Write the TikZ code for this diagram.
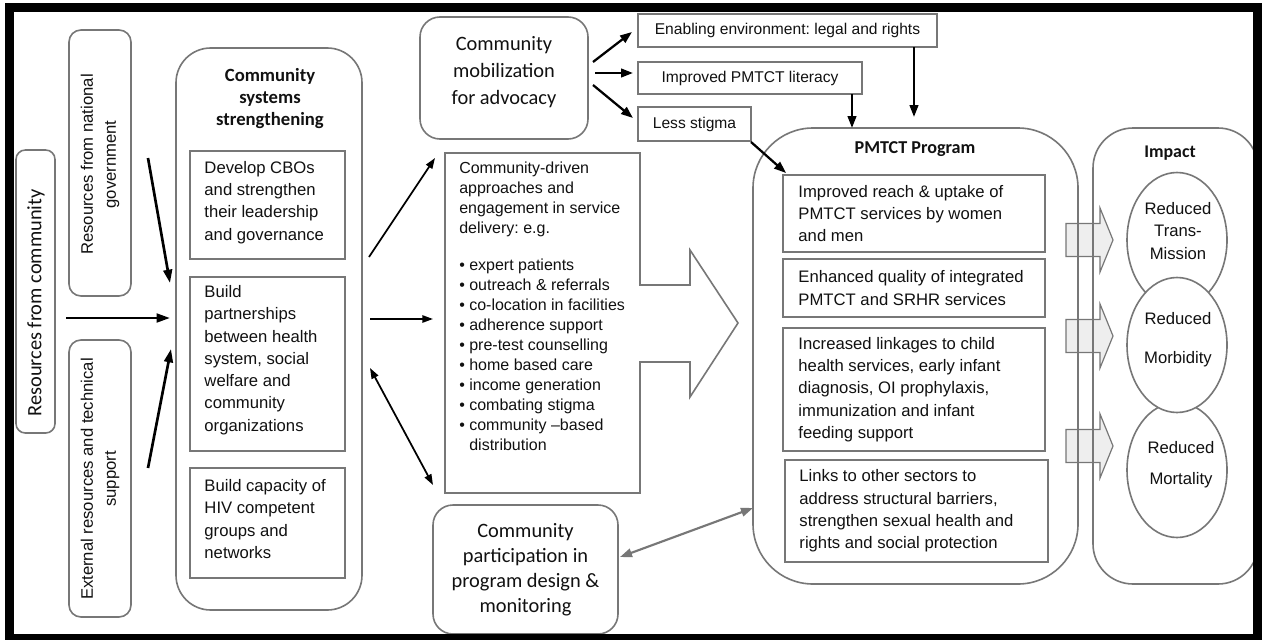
\documentclass[tikz,border=0pt]{standalone}
\usepackage{fontspec}
\setmainfont{Liberation Sans}
\newfontfamily\calfont{Carlito}
\usetikzlibrary{arrows.meta,shapes.geometric}
\definecolor{boxgray}{HTML}{777777}
\definecolor{arrfill}{HTML}{EEEEEE}
\definecolor{txtcol}{HTML}{111111}
\frenchspacing
\tikzset{
  box/.style={draw=boxgray, line width=1.2pt, inner sep=0pt},
  txt/.style={align=left, inner sep=0pt, text=txtcol, font=\fontsize{12.5}{16.7}\selectfont},
  ctxt/.style={align=center, inner sep=0pt, text=txtcol, font=\calfont\fontsize{15.3}{20.25}\selectfont},
  ttl/.style={align=center, inner sep=0pt, text=txtcol, font=\calfont\bfseries\fontsize{14}{16.5}\selectfont},
  arrbig/.style={line width=2pt, -{Triangle[length=10pt,width=6.5pt]}},
  arr/.style={line width=1.7pt, -{Triangle[length=9pt,width=6.5pt]}},
  arrthin/.style={line width=1.3pt, -{Triangle[length=8pt,width=5.5pt]}},
  ell/.style={ellipse, draw=boxgray, line width=1.2pt, fill=white, inner sep=0pt, minimum width=75pt, minimum height=101.25pt},
  blockarr/.style={fill=arrfill, draw=boxgray, line width=0.9pt}
}
\begin{document}
\begin{tikzpicture}[x=0.75pt,y=-0.75pt]
\useasboundingbox (0,0) rectangle (1267,639);
\fill[white] (0,0) rectangle (1267,639);

% grey block arrows (behind the boxes)
\foreach \c in {240,336,446}{
  \filldraw[blockarr] (1066,\c-16.5) -- (1100,\c-16.5) -- (1100,\c-32) -- (1113,\c)
     -- (1100,\c+32) -- (1100,\c+16.5) -- (1066,\c+16.5) -- cycle;
}

% ---------- left column ----------
\node[box, rounded corners=7pt, minimum width=29.25pt, minimum height=212.25pt] (rcomm) at (35.5,291.5) {};
\node[ctxt, rotate=90] (rcommt) at (36,303) {Resources from community};

\node[box, rounded corners=9pt, minimum width=46.5pt, minimum height=199.5pt] (rnat) at (100,163) {};
\node[txt, align=center, rotate=90, font=\fontsize{12.5}{17.3}\selectfont] (rnatt) at (100,164.5) {Resources from national\\government};

\node[box, rounded corners=9pt, minimum width=46.5pt, minimum height=207.75pt] (rext) at (100,478.5) {};
\node[txt, align=center, rotate=90, font=\fontsize{12.5}{17.3}\selectfont] (rextt) at (100,479) {External resources and technical\\support};

% ---------- community systems strengthening ----------
\node[box, rounded corners=26pt, minimum width=139.5pt, minimum height=421.5pt] (css) at (269,329) {};
\node[ttl] (csst) at (270,99) {Community\\systems\\strengthening};

\node[box, minimum width=116.25pt, minimum height=81pt] (b1) at (267.5,205) {};
\node[txt, anchor=west] (b1t) at ([xshift=11.25pt,yshift=2pt]b1.west) {Develop CBOs\\and strengthen\\their leadership\\and governance};

\node[box, minimum width=116.25pt, minimum height=130.5pt] (b2) at (267.5,364) {};
\node[txt, anchor=west] (b2t) at ([xshift=11.25pt,yshift=3pt]b2.west) {Build\\partnerships\\between health\\system, social\\welfare and\\community\\organizations};

\node[box, minimum width=116.25pt, minimum height=82.5pt] (b3) at (267.5,523) {};
\node[txt, anchor=west] (b3t) at ([xshift=11.25pt,yshift=3pt]b3.west) {Build capacity of\\HIV competent\\groups and\\networks};

% ---------- middle column ----------
\node[box, rounded corners=15pt, minimum width=126pt, minimum height=91.5pt] (mob) at (504,78) {};
\node[ctxt, font=\calfont\fontsize{15.3}{20.5}\selectfont] (mobt) at (504,72) {Community\\mobilization\\for advocacy};

\node[box, minimum width=224.25pt, minimum height=24.75pt, text=txtcol, font=\fontsize{11.7}{14}\selectfont] (env) at (787.5,30.5) {Enabling environment: legal and rights};
\node[box, minimum width=168pt, minimum height=24pt, text=txtcol, font=\fontsize{11.7}{14}\selectfont] (lit) at (750,78) {Improved PMTCT literacy};
\node[box, minimum width=84.75pt, minimum height=25.5pt, text=txtcol, font=\fontsize{11.7}{14}\selectfont] (less) at (694.5,124) {Less stigma};

% community-driven box with arrow
\node[minimum width=146.25pt, minimum height=255pt, inner sep=0pt] (cd) at (542.5,323) {};
\draw[box] (445,153) -- (640,153) -- (640,285) -- (690,285) -- (690,250) -- (738,323)
   -- (690,397) -- (690,362) -- (640,362) -- (640,493) -- (445,493) -- cycle;
\node[txt, anchor=north west, font=\fontsize{12}{15}\selectfont] (cdt) at (459,162)
 {Community-driven\\approaches and\\engagement in service\\delivery: e.g.\\[12.75pt]
  \textbullet\ expert patients\\
  \textbullet\ outreach \& referrals\\
  \textbullet\ co-location in facilities\\
  \textbullet\ adherence support\\
  \textbullet\ pre-test counselling\\
  \textbullet\ home based care\\
  \textbullet\ income generation\\
  \textbullet\ combating stigma\\
  \textbullet\ community --based\\
  \phantom{\textbullet\ }distribution};

\node[box, rounded corners=15pt, minimum width=138.75pt, minimum height=96.75pt] (part) at (525.5,569.5) {};
\node[ctxt, font=\calfont\fontsize{15.3}{18.75}\selectfont] (partt) at (525.5,569.5) {Community\\participation in\\program design \&\\monitoring};

% ---------- PMTCT program ----------
\node[box, rounded corners=45pt, minimum width=243.75pt, minimum height=342pt] (pm) at (915.5,356) {};
\node[ttl, font=\calfont\bfseries\fontsize{13.6}{16}\selectfont] (pmt) at (915,149) {PMTCT Program};

\node[box, minimum width=196.5pt, minimum height=57.75pt] (p1) at (914,213.5) {};
\node[txt, anchor=west] (p1t) at ([xshift=12pt]p1.west) {Improved reach \& uptake of\\PMTCT services by women\\and men};
\node[box, minimum width=196.5pt, minimum height=43.5pt] (p2) at (914,288) {};
\node[txt, anchor=west] (p2t) at ([xshift=12pt]p2.west) {Enhanced quality of integrated\\PMTCT and SRHR services};
\node[box, minimum width=196.5pt, minimum height=92.25pt] (p3) at (914,389.5) {};
\node[txt, anchor=west] (p3t) at ([xshift=12pt]p3.west) {Increased linkages to child\\health services, early infant\\diagnosis, OI prophylaxis,\\immunization and infant\\feeding support};
\node[box, minimum width=197.25pt, minimum height=76.5pt] (p4) at (916.5,511) {};
\node[txt, anchor=west] (p4t) at ([xshift=11.25pt]p4.west) {Links to other sectors to\\address structural barriers,\\strengthen sexual health and\\rights and social protection};

% ---------- impact ----------
\node[box, rounded corners=30pt, minimum width=123.75pt, minimum height=342pt] (imp) at (1175.5,356) {};
\node[ttl, font=\calfont\bfseries\fontsize{13.4}{16}\selectfont] (impt) at (1170,153) {Impact};
\node[ell] (e1) at (1177,240) {};
\node[ell] (e3) at (1177,470) {};
\node[ell] (e2) at (1177,345) {};
\node[txt, align=center, font=\fontsize{12.5}{16.9}\selectfont] (e1t) at (1178,231) {Reduced\\Trans-\\Mission};
\node[txt, align=center, font=\fontsize{12.5}{29.25}\selectfont] (e2t) at (1178,340) {Reduced\\Morbidity};
\node[txt, align=center, font=\fontsize{12.5}{23.25}\selectfont] (e3t) at (1181,464.5) {Reduced\\Mortality};

% ---------- frame ----------
\draw[line width=6.75pt] (9.5,7.5) rectangle (1257.5,638.5);

% ---------- connectors ----------
\coordinate (natS) at (148,158);  \coordinate (natE) at (170,283);
\coordinate (comS) at (66,318);   \coordinate (comE) at (170,318);
\coordinate (extS) at (148,468);  \coordinate (extE) at (171,349);
\draw[arrbig] (natS) -- (natE);
\draw[arrbig] (comS) -- (comE);
\draw[arrbig] (extS) -- (extE);

\coordinate (c1S) at (369,257); \coordinate (c1E) at (435,158);
\coordinate (c2S) at (370,319); \coordinate (c2E) at (433,319);
\coordinate (c3S) at (370,368); \coordinate (c3E) at (433,485);
\draw[arrthin] (c1S) -- (c1E);
\draw[arrthin] (c2S) -- (c2E);
\draw[arrthin, {Triangle[length=8pt,width=5.5pt]}-{Triangle[length=8pt,width=5.5pt]}] (c3S) -- (c3E);

\coordinate (m1S) at (593,62); \coordinate (m1E) at (632,32);
\coordinate (m2S) at (595,73); \coordinate (m2E) at (633,73);
\coordinate (m3S) at (593,85); \coordinate (m3E) at (633,118);
\draw[arr] (m1S) -- (m1E);
\draw[arr] (m2S) -- (m2E);
\draw[arr] (m3S) -- (m3E);

\coordinate (envS) at (914,47);  \coordinate (envE) at (914,117);
\coordinate (litS) at (852,94);  \coordinate (litE) at (852,128);
\coordinate (lessS) at (751,142); \coordinate (lessE) at (786,173);
\draw[arr] (envS) -- (envE);
\draw[arr] (litS) -- (litE);
\draw[arr] (lessS) -- (lessE);

\coordinate (pS) at (620,557); \coordinate (pE) at (753,508);
\draw[draw=boxgray, line width=1.6pt, {Triangle[length=9pt,width=6.5pt]}-{Triangle[length=9pt,width=6.5pt]}] (pS) -- (pE);
\end{tikzpicture}
\end{document}
